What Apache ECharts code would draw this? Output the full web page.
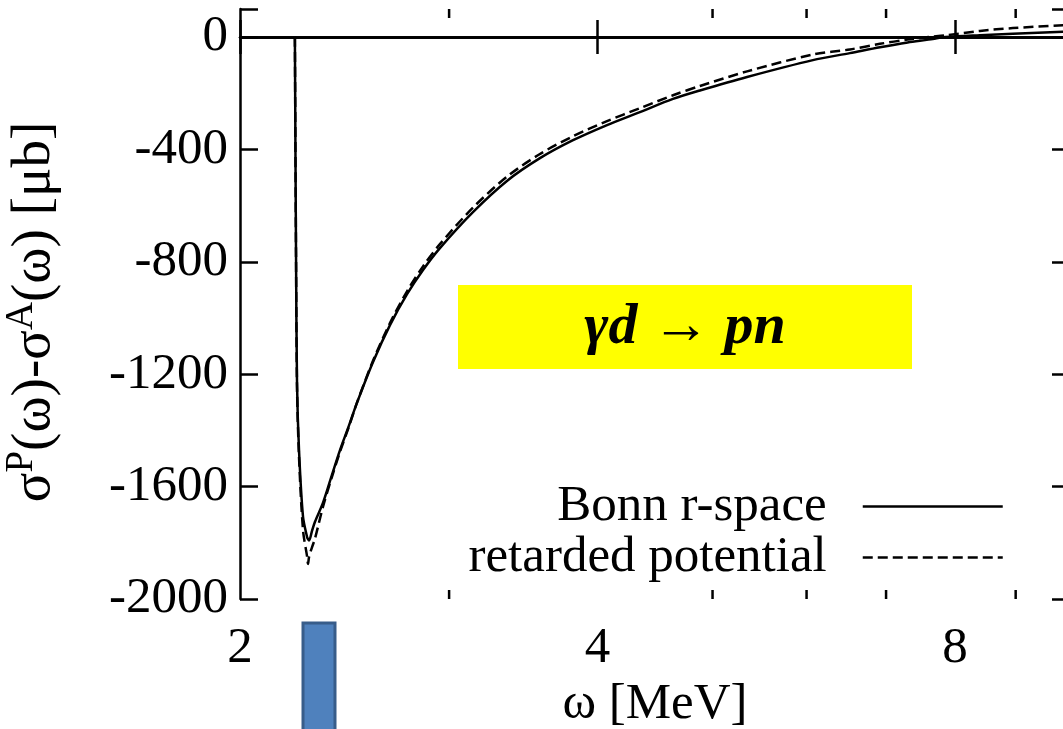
<!DOCTYPE html>
<html>
<head>
<meta charset="utf-8">
<script src="https://cdn.jsdelivr.net/npm/echarts@6/dist/echarts.min.js"></script>
<style>
  html, body { margin: 0; padding: 0; background: #ffffff; }
  #chart { width: 1063px; height: 729px; }
</style>
</head>
<body>
<div id="chart"></div>
<script>
// Photon energy ω [MeV] (log scale, base 2)
const omega = [
  2.2246, 2.2294, 2.2338, 2.2425, 2.26, 2.2777, 2.282, 2.2866, 2.30, 2.313,
  2.349, 2.39, 2.428, 2.47, 2.509, 2.588, 2.675, 2.765, 2.852, 2.947,
  3.142, 3.356, 3.578, 3.815, 4.075, 4.343, 4.631, 4.880, 5.346, 6.074,
  6.526, 6.918, 7.3, 7.6, 7.85, 8.398, 8.951, 9.864, 10
];
// σP(ω) − σA(ω) [μb], Bonn r-space potential
const bonnRSpace = [
  0, -758, -1231, -1470, -1708, -1779, -1787, -1792, -1757, -1725,
  -1658, -1559, -1470, -1384, -1302, -1157, -1025, -915, -829, -751,
  -623, -512, -431, -367, -313, -267, -220, -190, -142, -82,
  -57, -36, -19, -9, 0, 7, 12, 19, 20
];
// σP(ω) − σA(ω) [μb], retarded potential
const retardedPotential = [
  0, -765, -1245, -1495, -1755, -1848, -1875, -1850, -1815, -1785,
  -1672, -1566, -1476, -1387, -1302, -1153, -1018, -905, -816, -737,
  -607, -497, -416, -353, -299, -253, -207, -174, -122, -62,
  -44, -24, -9, 0, 6, 22, 32, 42, 43
];
const seriesNames = ['Bonn r-space', 'retarded potential'];
const xMajorTicks = [2, 4, 8];
const xMinorTicks = [3, 5, 6, 7, 9];
const yTickLabels = [0, -400, -800, -1200, -1600, -2000];

const SERIF = "'Liberation Serif', 'Times New Roman', 'DejaVu Serif', serif";
const X_MIN = 2, X_MAX = 10, Y_MIN = -2000, Y_MAX = 100;

const pairs = (xs, ys) => xs.map((x, i) => [x, ys[i]]);

const chart = echarts.init(document.getElementById('chart'), null, { renderer: 'canvas' });

const xAxisCommon = {
  type: 'log',
  logBase: 2,
  min: X_MIN,
  max: X_MAX,
  splitLine: { show: false },
  axisLine: { show: true, lineStyle: { color: '#000', width: 2.5 } },
  axisTick: { show: true, inside: true, length: 17, lineStyle: { color: '#000', width: 2.5 } },
  minorTick: { show: false }
};
const yAxisCommon = {
  type: 'value',
  min: Y_MIN,
  max: Y_MAX,
  interval: 400,
  splitLine: { show: false },
  axisLine: { show: true, onZero: false, lineStyle: { color: '#000', width: 2.5 } },
  axisTick: { show: true, inside: true, length: 18, lineStyle: { color: '#000', width: 2.5 } }
};

chart.setOption({
  animation: false,
  backgroundColor: '#ffffff',
  grid: { left: 240, right: -7, top: 9, bottom: 130, containLabel: false, outerBoundsMode: 'none' },
  xAxis: [
    Object.assign({}, xAxisCommon, {
      position: 'bottom',
      name: 'ω [MeV]',
      nameLocation: 'middle',
      nameGap: 62,
      nameTextStyle: { fontFamily: SERIF, fontSize: 51, color: '#000' },
      axisLabel: {
        show: true,
        margin: 24,
        fontFamily: SERIF,
        fontSize: 51,
        color: '#000',
        showMaxLabel: false,
        formatter: v => {
          const r = Math.round(v);
          return xMajorTicks.indexOf(r) >= 0 && Math.abs(v - r) < 1e-6 ? String(r) : '';
        }
      }
    }),
    Object.assign({}, xAxisCommon, { position: 'top', axisLabel: { show: false } })
  ],
  yAxis: [
    Object.assign({}, yAxisCommon, {
      position: 'left',
      name: '{s|σ}{sup|P}{s|(ω)-σ}{sup|A}{s|(ω) [μb]}',
      nameLocation: 'middle',
      nameRotate: 90,
      nameGap: 178,
      nameTextStyle: {
        fontFamily: SERIF,
        color: '#000',
        padding: [0, 16, 0, 0],
        rich: {
          s: { fontFamily: SERIF, fontSize: 55, color: '#000', verticalAlign: 'bottom', lineHeight: 60 },
          sup: { fontFamily: SERIF, fontSize: 39, color: '#000', verticalAlign: 'top', lineHeight: 39 }
        }
      },
      axisLabel: {
        show: true,
        margin: 12,
        fontFamily: SERIF,
        fontSize: 51,
        color: '#000',
        formatter: v => (yTickLabels.indexOf(v) >= 0 ? String(v) : '')
      }
    }),
    Object.assign({}, yAxisCommon, { position: 'right', axisLabel: { show: false } })
  ],
  legend: {
    orient: 'vertical',
    right: 59,
    top: 481,
    padding: 0,
    align: 'right',
    itemWidth: 140,
    itemHeight: 20,
    itemGap: 0,
    data: seriesNames,
    itemStyle: { opacity: 0 },
    lineStyle: { width: 2.5 },
    textStyle: { fontFamily: SERIF, fontSize: 51, color: '#000', padding: [0, 31, 0, 0], lineHeight: 50 },
    selectedMode: false
  },
  series: [
    {
      name: seriesNames[0],
      type: 'line',
      data: pairs(omega, bonnRSpace),
      symbol: 'none',
      smooth: 0.3,
      z: 3,
      lineStyle: { color: '#000', width: 2.5, type: 'solid' },
      itemStyle: { color: '#000' },
      markLine: {
        silent: true,
        symbol: 'none',
        label: { show: false },
        lineStyle: { color: '#000', width: 2.5, type: 'solid' },
        data: [{ yAxis: 0 }]
      }
    },
    {
      name: seriesNames[1],
      type: 'line',
      data: pairs(omega, retardedPotential),
      symbol: 'none',
      smooth: 0.3,
      z: 2,
      lineStyle: { color: '#000', width: 2.5, type: [10, 5] },
      itemStyle: { color: '#000' }
    },
    {
      // minor ticks of the log axis at 3, 5, 6, 7, 9 (bottom and top edges)
      type: 'custom',
      silent: true,
      data: xMinorTicks.map(v => [v]),
      renderItem: (params, api) => {
        const v = api.value(0);
        const bottom = api.coord([v, Y_MIN]);
        const top = api.coord([v, Y_MAX]);
        const st = { stroke: '#000', lineWidth: 2.5 };
        return {
          type: 'group',
          children: [
            { type: 'line', shape: { x1: bottom[0], y1: bottom[1], x2: bottom[0], y2: bottom[1] - 9 }, style: st },
            { type: 'line', shape: { x1: top[0], y1: top[1], x2: top[0], y2: top[1] + 9 }, style: st }
          ]
        };
      }
    }
  ],
  graphic: [
    {
      type: 'rect',
      shape: { x: 458, y: 285, width: 454, height: 84 },
      style: { fill: '#ffff00' },
      z: 1
    },
    {
      type: 'text',
      x: 685,
      y: 328,
      style: {
        text: 'γd → pn',
        fontFamily: SERIF,
        fontSize: 58,
        fontWeight: 'bold',
        fontStyle: 'italic',
        fill: '#000',
        align: 'center',
        verticalAlign: 'middle'
      },
      z: 2
    },
    {
      type: 'rect',
      shape: { x: 303, y: 623, width: 32, height: 120 },
      style: { fill: '#4f81bd', stroke: '#385d8a', lineWidth: 3 },
      z: 1
    }
  ]
});
</script>
</body>
</html>
